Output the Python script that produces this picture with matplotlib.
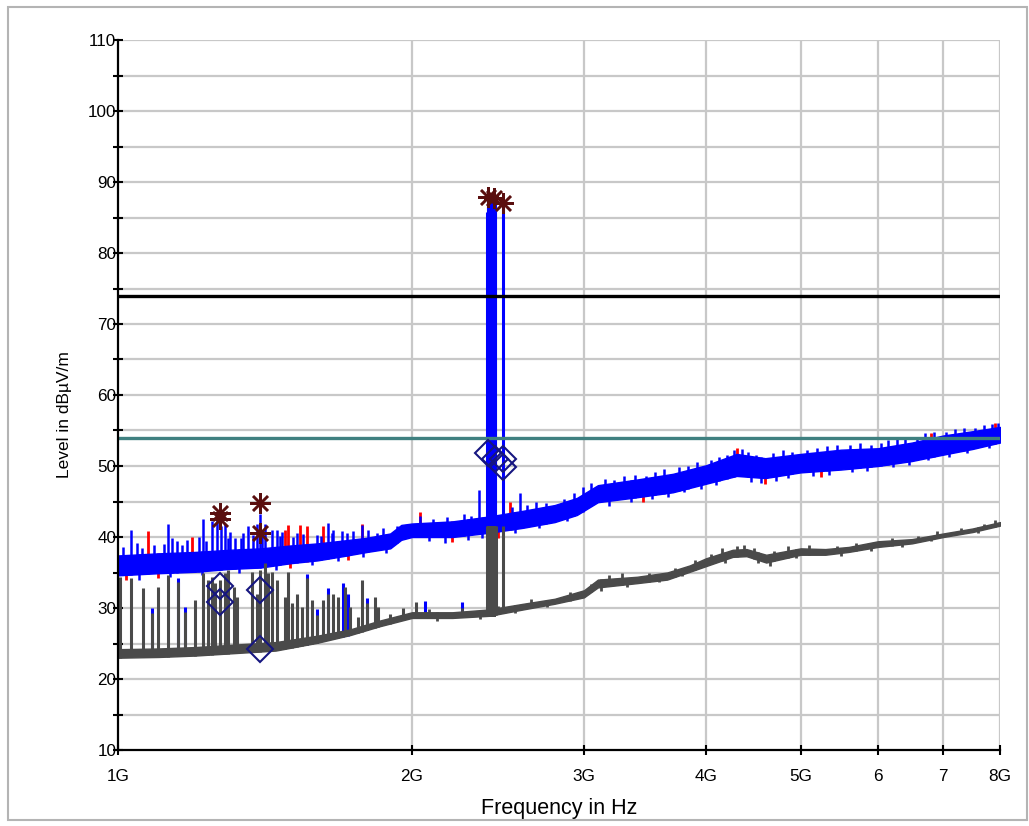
import numpy as np
import matplotlib
matplotlib.use("Agg")
import matplotlib.pyplot as plt
from matplotlib.ticker import FixedLocator, NullLocator
from matplotlib.patches import Rectangle

plt.rcParams['font.family'] = ['Liberation Sans', 'DejaVu Sans']

# ---------------- data (frequency in GHz, level in dBuV/m) ----------------
peak_freq = [1.00, 1.10, 1.20, 1.30, 1.40, 1.50, 1.60, 1.70, 1.80, 1.90, 1.95, 2.00, 2.20, 2.40, 2.60,
             2.80, 2.95, 3.10, 3.40, 3.70, 4.00, 4.30, 4.60, 5.00, 5.50, 6.00, 6.50, 7.00, 7.50, 8.00]
peak_low = [34.6, 34.9, 35.1, 35.5, 35.7, 36.3, 36.7, 37.3, 37.9, 38.4, 39.6, 40.0, 40.0, 40.6, 41.3,
            42.1, 43.1, 44.9, 45.6, 46.3, 47.5, 48.6, 48.3, 49.1, 49.5, 50.0, 50.7, 51.6, 52.4, 53.3]
peak_high = [37.4, 37.7, 37.9, 38.2, 38.4, 38.8, 39.1, 39.5, 39.9, 40.5, 41.7, 41.9, 42.2, 42.9, 43.7,
             44.5, 45.5, 47.3, 48.1, 48.9, 50.1, 51.7, 51.1, 51.7, 52.3, 52.5, 53.3, 54.3, 54.9, 55.5]

# narrowband spikes of the peak trace (blue)
peak_spike_freq = [1.030, 1.126, 1.135, 1.209, 1.221, 1.247, 1.262, 1.274, 1.287, 1.302, 1.318, 1.344,
                   1.360, 1.376, 1.387, 1.398, 1.414, 1.437, 1.454, 1.472, 1.524, 1.598, 1.642, 1.662,
                   1.714, 1.776, 1.841, 2.340, 2.580, 2.990]
peak_spike_level = [41.0, 41.9, 39.8, 40.0, 42.6, 42.2, 42.6, 41.5, 41.9, 40.7, 39.8, 40.5,
                    41.5, 40.3, 41.9, 43.3, 41.9, 41.0, 41.0, 40.7, 40.5, 40.3, 42.0, 41.0,
                    40.5, 41.7, 40.5, 46.6, 46.2, 47.1]
# ragged upper edge of the peak trace
peak_top_freq = [1.012, 1.045, 1.058, 1.088, 1.115, 1.148, 1.162, 1.178, 1.232, 1.295, 1.335, 1.405, 1.465,
                 1.512, 1.548, 1.612, 1.655, 1.695, 1.742, 1.805, 1.868, 1.930, 2.040, 2.100, 2.170, 2.260,
                 2.300, 2.530, 2.620, 2.680, 2.740, 2.860, 2.930, 3.050, 3.150, 3.220, 3.300, 3.380,
                 3.470, 3.550, 3.620, 3.750, 3.830, 3.920, 4.050, 4.120, 4.200, 4.270, 4.350, 4.420,
                 4.500, 4.680, 4.800, 4.900, 5.080, 5.200, 5.320, 5.450, 5.620, 5.750, 5.900, 6.050,
                 6.150, 6.280, 6.400, 6.580, 6.700, 6.850, 7.050, 7.200, 7.350, 7.550, 7.700, 7.850, 7.970]
peak_top_level = [38.6, 39.2, 38.4, 38.9, 39.0, 39.4, 38.9, 39.6, 39.5, 39.8, 39.9, 40.2, 40.1,
                  40.0, 40.4, 40.1, 40.6, 40.8, 40.9, 41.0, 41.3, 41.5, 43.0, 42.6, 42.8, 43.2,
                  42.9, 44.2, 44.5, 45.0, 44.8, 45.4, 46.2, 47.6, 48.2, 48.0, 48.6, 48.8,
                  48.6, 49.2, 49.6, 49.8, 50.0, 50.6, 50.8, 51.2, 51.6, 52.2, 52.4, 52.0,
                  51.6, 51.8, 52.2, 52.0, 52.3, 52.6, 52.8, 52.9, 53.0, 53.2, 53.0, 53.2,
                  53.6, 53.8, 54.0, 53.9, 54.6, 54.8, 54.8, 55.2, 55.3, 55.4, 55.8, 55.9, 56.0]
# ragged lower edge of the peak trace
peak_bottom_freq = [1.050, 1.130, 1.220, 1.330, 1.450, 1.580, 1.680, 1.780, 1.880, 2.080, 2.160, 2.280,
                    2.360, 2.550, 2.700, 2.880, 3.180, 3.350, 3.520, 3.660, 3.800, 3.950, 4.100, 4.450,
                    4.550, 4.720, 4.850, 5.150, 5.350, 5.650, 5.850, 6.220, 6.450, 6.750, 7.100, 7.400, 7.800]
peak_bottom_level = [34.0, 34.3, 34.6, 35.0, 35.3, 36.0, 36.6, 37.2, 37.8, 39.4, 39.2, 39.6,
                     39.8, 40.6, 41.2, 42.2, 44.3, 45.0, 45.3, 45.7, 46.3, 46.8, 47.3, 47.8,
                     47.6, 47.9, 48.3, 48.6, 48.8, 49.2, 49.3, 49.8, 50.2, 50.8, 51.2, 51.8, 52.5]
# red (peak, first pass) showing above and below the blue trace
red_tip_freq = [1.074, 1.190, 1.483, 1.494, 1.536, 1.561, 1.623, 1.776, 2.040, 2.520, 4.300, 6.800, 7.900]
red_tip_level = [40.9, 40.0, 41.0, 41.7, 41.7, 41.5, 41.5, 41.9, 43.5, 45.0, 52.6, 54.6, 56.0]
red_low_freq = [1.020, 1.100, 1.500, 1.720, 2.200, 2.450, 3.450, 4.600, 5.250]
red_low_level = [34.0, 34.2, 35.6, 36.7, 39.3, 39.8, 45.0, 47.5, 48.4]

# 2.4 GHz carrier (peak)
carrier_freq = [2.386, 2.390, 2.395, 2.400, 2.405, 2.410, 2.415, 2.420, 2.425, 2.430, 2.435, 2.479]
carrier_level = [85.8, 87.5, 87.9, 87.6, 87.3, 87.0, 86.8, 87.4, 87.7, 87.3, 86.9, 86.9]

# average trace (grey)
avg_freq = [1.00, 1.10, 1.20, 1.30, 1.45, 1.60, 1.73, 1.85, 2.00, 2.20, 2.40, 2.60, 2.80, 3.00, 3.10,
            3.40, 3.65, 3.85, 4.00, 4.26, 4.40, 4.61, 5.00, 5.30, 5.60, 6.00, 6.50, 7.00, 7.50, 8.00]
avg_low = [23.0, 23.1, 23.3, 23.6, 24.0, 25.1, 26.2, 27.4, 28.6, 28.6, 28.9, 29.8, 30.6, 31.5, 32.9,
           33.5, 34.0, 35.1, 35.9, 37.2, 37.3, 36.4, 37.5, 37.5, 37.9, 38.6, 39.1, 40.0, 40.7, 41.6]
avg_high = [24.2, 24.3, 24.5, 24.8, 25.2, 26.1, 27.0, 28.2, 29.4, 29.4, 29.8, 30.6, 31.3, 32.5, 34.0,
            34.4, 35.0, 36.0, 37.0, 38.2, 38.3, 37.5, 38.4, 38.3, 38.6, 39.4, 39.7, 40.5, 41.2, 42.1]
avg_top_freq = [2.08, 2.25, 2.45, 2.65, 2.90, 3.05, 3.18, 3.28, 3.50, 3.72, 3.90, 4.05, 4.15, 4.30,
                4.38, 4.48, 4.70, 4.85, 5.10, 5.45, 5.70, 6.20, 6.60, 6.90, 7.30, 7.70, 7.90]
avg_top_level = [29.9, 30.0, 30.3, 31.2, 32.2, 33.4, 34.6, 34.9, 35.0, 35.6, 36.8, 37.6, 38.4, 38.8,
                 38.9, 38.4, 38.0, 38.8, 38.9, 38.8, 39.2, 39.8, 40.2, 40.8, 41.3, 41.8, 42.4]
avg_bottom_freq = [2.12, 2.35, 2.55, 2.75, 3.12, 3.32, 3.58, 3.78, 4.18, 4.52, 4.65, 4.95, 5.50, 5.90,
                   6.35, 6.80, 7.60]
avg_bottom_level = [28.2, 28.5, 29.3, 30.1, 32.4, 33.0, 33.6, 34.5, 36.4, 36.4, 35.9, 37.0, 37.3, 38.0,
                    38.6, 39.4, 40.5]

avg_spike_freq = [1.005, 1.030, 1.060, 1.083, 1.100, 1.126, 1.153, 1.171, 1.199, 1.223, 1.237, 1.247,
                  1.257, 1.272, 1.287, 1.297, 1.313, 1.323, 1.370, 1.387, 1.398, 1.414, 1.425, 1.437,
                  1.454, 1.483, 1.494, 1.506, 1.524, 1.542, 1.561, 1.579, 1.598, 1.623, 1.642, 1.662,
                  1.681, 1.708, 1.728, 1.762, 1.778, 1.797, 1.834, 1.848, 1.900, 1.960, 2.020]
avg_spike_level = [34.4, 34.2, 32.8, 29.3, 33.0, 34.6, 33.7, 29.5, 31.1, 34.9, 33.9, 34.4,
                   33.5, 33.9, 34.9, 35.4, 33.0, 31.6, 35.1, 32.0, 35.4, 36.3, 34.9, 35.1,
                   33.9, 31.6, 35.1, 30.7, 32.0, 30.2, 34.2, 31.1, 29.0, 31.1, 32.0, 32.0,
                   31.6, 33.0, 30.2, 28.8, 33.9, 30.7, 31.6, 30.2, 29.2, 30.0, 30.8]
avg_blue_freq = [1.083, 1.153, 1.171, 1.561, 1.598, 1.642, 1.700, 1.720, 1.800, 2.060, 2.250]
avg_blue_level = [30.0, 34.2, 30.2, 34.8, 29.8, 32.8, 33.5, 32.0, 31.4, 31.0, 30.8]
carrier_avg_freq = [2.386, 2.392, 2.400, 2.410, 2.420, 2.430, 2.437, 2.479]
carrier_avg_level = [41.5, 41.5, 41.5, 41.5, 41.5, 41.5, 41.5, 41.5]

limit_peak = 74.0
limit_avg = 54.0

# final measurement markers
qp_freq = [1.272, 1.272, 1.398, 1.398, 2.392, 2.427, 2.479]
qp_level = [43.4, 42.6, 44.8, 40.5, 87.9, 87.7, 87.0]
av_freq = [1.272, 1.272, 1.398, 1.398, 2.392, 2.430, 2.479, 2.479]
av_level = [33.1, 30.9, 32.6, 24.2, 51.8, 51.0, 51.0, 49.8]

x_ticks = [1, 2, 3, 4, 5, 6, 7, 8]
x_tick_labels = ["1G", "2G", "3G", "4G", "5G", "6", "7", "8G"]
y_ticks = list(range(10, 111, 10))
y_minor = list(range(15, 110, 10))

# ---------------- figure ----------------
W, H = 1029, 826
fig = plt.figure(figsize=(W / 100, H / 100), dpi=100)
fig.patches.append(Rectangle((8 / W, 6 / H), (1027 - 8) / W, (819 - 6) / H, transform=fig.transFigure,
                             fill=False, edgecolor='#b4b4b4', linewidth=1.5))
ax = fig.add_axes([118 / W, 1 - 750 / H, (1000 - 118) / W, (750 - 40) / H])
ax.set_xscale('log')
ax.set_xlim(1, 8)
ax.set_ylim(10, 110)

grid_c = '#c8c8c8'
for y in range(15, 111, 5):
    ax.axhline(y, color=grid_c, lw=1.6, zorder=0)
for x in x_ticks[1:]:
    ax.axvline(x, color=grid_c, lw=1.6, zorder=0)

blue = '#0000ff'
red = '#ff0000'
grey = '#4a4a4a'

pf = np.array(peak_freq)
pl = np.array(peak_low)
ph = np.array(peak_high)
af = np.array(avg_freq)
al = np.array(avg_low)
ah = np.array(avg_high)


def spikes(freqs, levels, base_f, base_v, color, lw, z):
    foot = np.interp(freqs, base_f, base_v)
    ax.vlines(freqs, foot, levels, color=color, lw=lw, zorder=z)


# red tips (behind blue)
spikes(red_tip_freq, red_tip_level, pf, pl, red, 2.0, 2)
spikes(red_low_freq, red_low_level, pf, ph, red, 2.0, 2)
# blue peak trace
ax.fill_between(pf, pl, ph, color=blue, lw=1.0, edgecolor=blue, zorder=3)
spikes(peak_spike_freq, peak_spike_level, pf, pl, blue, 1.8, 3)
spikes(peak_top_freq, peak_top_level, pf, pl, blue, 1.8, 3)
spikes(peak_bottom_freq, peak_bottom_level, pf, ph, blue, 1.8, 3)
spikes(carrier_freq, carrier_level, pf, pl, blue, 2.2, 3)
ax.fill_between([2.388, 2.437], [41.0, 41.0], [86.5, 86.5], color=blue, lw=0, zorder=3)

# average trace
spikes(avg_blue_freq, avg_blue_level, af, al, blue, 2.2, 3.5)
ax.fill_between(af, al, ah, color=grey, lw=1.0, edgecolor=grey, zorder=4)
spikes(avg_spike_freq, avg_spike_level, af, al, grey, 2.2, 4)
spikes(avg_top_freq, avg_top_level, af, al, grey, 2.0, 4)
spikes(avg_bottom_freq, avg_bottom_level, af, ah, grey, 2.0, 4)
spikes(carrier_avg_freq, carrier_avg_level, af, al, grey, 2.2, 4)
ax.fill_between([2.388, 2.437], [28.8, 28.8], [41.5, 41.5], color=grey, lw=0, zorder=4)

# limit lines
ax.axhline(limit_peak, color='black', lw=2.4, zorder=5)
ax.axhline(limit_avg, color='#3f8080', lw=2.4, zorder=5)

# markers
ax.plot(qp_freq, qp_level, ls='none', marker=(8, 2, 0), ms=15, mew=1.8, color='#5a0f0f', zorder=7)
ax.plot(av_freq, av_level, ls='none', marker='D', ms=13, mew=1.5, mfc='none', mec='#161680', zorder=7)

# axes styling
for s in ['top', 'right']:
    ax.spines[s].set_visible(False)
for s in ['left', 'bottom']:
    ax.spines[s].set_linewidth(1.6)
    ax.spines[s].set_zorder(8)

ax.xaxis.set_major_locator(FixedLocator(x_ticks))
ax.xaxis.set_minor_locator(NullLocator())
ax.set_xticklabels(x_tick_labels)
ax.yaxis.set_major_locator(FixedLocator(y_ticks))
ax.yaxis.set_minor_locator(FixedLocator(y_minor))
ax.tick_params(axis='both', which='both', direction='inout', length=7.5, width=1.5, labelsize=12.3)
ax.tick_params(axis='y', which='both', pad=-2.5)
ax.tick_params(axis='x', which='both', pad=10.0)

ax.set_xlabel('Frequency in Hz', fontsize=15.5)
ax.xaxis.set_label_coords(0.5, -0.068)
ax.set_ylabel('Level in dBµV/m', fontsize=12.5)
ax.yaxis.set_label_coords(-0.052, 0.472)

fig.savefig('out.png', dpi=100)
